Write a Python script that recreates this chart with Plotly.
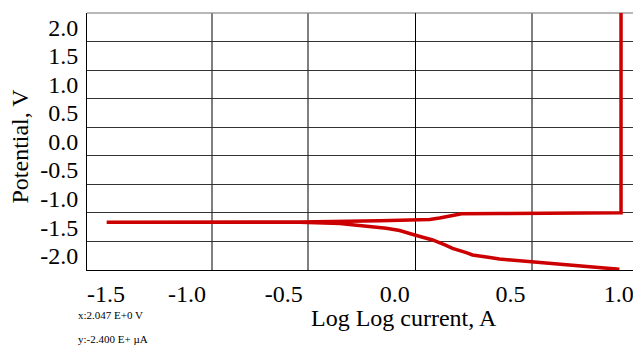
import plotly.graph_objects as go

# Polarization curve (log current vs potential), traced from lower-right branch
# leftwards, then back along the upper branch and up the vertical limit.
log_current = [0.992, 0.798, 0.565, 0.482, 0.409, 0.346, 0.278, 0.248, 0.215,
               0.181, 0.147, 0.118, 0.084, -0.003, -0.076, -0.141, -0.270,
               -0.367, -0.562, -0.989, -1.5,
               -0.989, -0.562, -0.173, -0.003, 0.070, 0.118, 0.142, 0.167,
               0.181, 0.206, 0.225, 0.409, 1.0, 1.0]
potential = [-2.238, -2.180, -2.105, -2.082, -2.057, -2.022, -1.987, -1.947, -1.914,
             -1.870, -1.816, -1.777, -1.724, -1.637, -1.558, -1.520, -1.467,
             -1.436, -1.413, -1.415, -1.415,
             -1.415, -1.409, -1.387, -1.374, -1.366, -1.339, -1.322, -1.295,
             -1.287, -1.269, -1.264, -1.261, -1.247, 2.3]

x_tickvals = [-1.503, -1.110, -0.639, -0.100, 0.463, 0.989]
x_ticktext = ["-1.5", "-1.0", "-0.5", "0.0", "0.5", "1.0"]
x_gridvals = [-0.989, -0.523, 0.565]

y_tickvals = [2.0, 1.5, 1.0, 0.5, 0.0, -0.5, -1.0, -1.5, -2.0]
y_ticktext = ["2.0", "1.5", "1.0", "0.5", "0.0", "-0.5", "-1.0", "-1.5", "-2.0"]
y_gridvals = [1.75, 1.25, 0.75, 0.25, -0.25, -0.75, -1.25, -1.75]

FONT = "Liberation Serif"
PW, PH = 552.3, 257.0   # plot area size in px

fig = go.Figure()
fig.add_trace(go.Scatter(x=log_current, y=potential, mode="lines",
                         line=dict(color="#cc0000", width=3.5),
                         showlegend=False, hoverinfo="skip"))

# page body has an 8px margin, so the figure is shifted by -8px
fig.update_layout(
    width=633, height=337,
    margin=dict(l=79, r=1.7, t=5, b=75),
    paper_bgcolor="white", plot_bgcolor="white",
    font=dict(family=FONT, color="black"),
    xaxis=dict(range=[-1.5957, 1.0874], tickmode="array",
               tickvals=x_tickvals, ticktext=x_ticktext,
               tickfont=dict(size=24, family=FONT, color="black"),
               showgrid=False, zeroline=True, zerolinecolor="black", zerolinewidth=1,
               showline=True, linecolor="black", linewidth=1,
               ticks="", ticklabelstandoff=2, automargin=False,
               minor=dict(tickmode="array", tickvals=x_gridvals, showgrid=True,
                          gridcolor="#808080", gridwidth=1.5, ticks="")),
    yaxis=dict(range=[-2.25, 2.25], tickmode="array",
               tickvals=y_tickvals, ticktext=y_ticktext,
               tickfont=dict(size=24, family=FONT, color="black"),
               showgrid=False, zeroline=False,
               showline=True, linecolor="black", linewidth=1,
               ticks="", ticklabelstandoff=3, automargin=False,
               minor=dict(tickmode="array", tickvals=y_gridvals, showgrid=True,
                          gridcolor="#333333", gridwidth=1, ticks="")),
)

# top and right frame (gray)
fig.add_shape(type="line", xref="paper", yref="paper", x0=1, x1=1, y0=0, y1=1,
              line=dict(color="#909090", width=1.5))
fig.add_shape(type="line", xref="paper", yref="paper", x0=0, x1=1, y0=1, y1=1,
              line=dict(color="#a0a0a0", width=1.5), layer="below")

# positions below given in reference-pixel terms relative to plot area (left 87, bottom 270)
fig.add_annotation(text="Log Log current, A", xref="paper", yref="paper",
                   x=(404 - 87) / PW, y=(270 - 318) / PH, showarrow=False,
                   xanchor="center", yanchor="middle",
                   font=dict(size=24, family=FONT, color="black"))
fig.add_annotation(text="Potential, V", xref="paper", yref="paper",
                   x=(20 - 87) / PW, y=(270 - 146.5) / PH, showarrow=False,
                   textangle=-90, xanchor="center", yanchor="middle",
                   font=dict(size=24, family=FONT, color="black"))
fig.add_annotation(text="x:2.047 E+0 V", xref="paper", yref="paper",
                   x=(76 - 87) / PW, y=(270 - 314.5) / PH, showarrow=False,
                   xanchor="left", yanchor="middle",
                   font=dict(size=11, family=FONT, color="black"))
fig.add_annotation(text="y:-2.400 E+ µA", xref="paper", yref="paper",
                   x=(76 - 87) / PW, y=(270 - 339) / PH, showarrow=False,
                   xanchor="left", yanchor="middle",
                   font=dict(size=11, family=FONT, color="black"))

fig.write_html("out.html")
